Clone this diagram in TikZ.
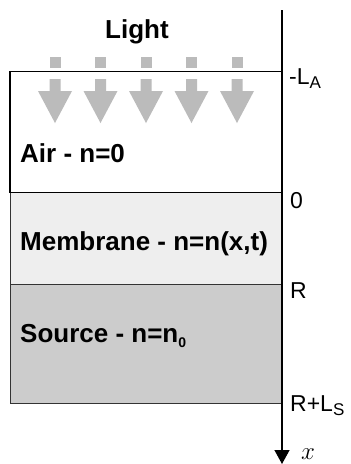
\documentclass[tikz,border=0pt]{standalone}
\usepackage{fontspec}
\setmainfont{Liberation Sans}
\usetikzlibrary{arrows.meta}
\definecolor{arrowgray}{HTML}{BBBBBB}
\definecolor{membfill}{HTML}{EEEEEE}
\definecolor{srcfill}{HTML}{CCCCCC}
\newcommand{\mysub}[1]{\raisebox{-0.2em}{\fontsize{17}{20}\selectfont #1}}
\tikzset{
  boldlabel/.style={anchor=base west,inner sep=0pt,font=\bfseries\fontsize{26}{30}\selectfont},
  axislabel/.style={anchor=base west,inner sep=0pt,font=\fontsize{23}{27}\selectfont},
  lightarrow/.pic={
    \fill[arrowgray] (-5.5,-56.5) rectangle (5.5,-67.5);
    \fill[arrowgray] (-5.5,-79) -- (5.5,-79) -- (5.5,-91) -- (17,-91) -- (0,-123) -- (-17,-91) -- (-5.5,-91) -- cycle;
  }
}
\begin{document}
\begin{tikzpicture}[x=1pt,y=1pt]
\useasboundingbox (0,0) rectangle (351,-464);
% layers
\draw[line width=1pt,draw=black!80,fill=srcfill] (10,-284) rectangle (282,-403);
\draw[line width=1pt,draw=black!80,fill=membfill] (10,-192.5) rectangle (282,-284);
\draw[line width=1.3pt,fill=white] (10,-71.5) rectangle (282,-192.5);
% light arrows
\foreach \cx in {55,100.5,146,191.5,237} {
  \pic at (\cx,0) {lightarrow};
}
% axis
\coordinate (axtop) at (282,-10);
\coordinate (axbot) at (282,-464);
\draw[line width=1.3pt,-{Triangle[width=15pt,length=14pt]}] (axtop) -- (axbot);
% labels
\node[anchor=base,inner sep=0pt,font=\bfseries\fontsize{26}{30}\selectfont] (light) at (137,-38) {Light};
\node[boldlabel] (air) at (20,-162) {Air - n=0};
\node[boldlabel] (memb) at (20,-250) {Membrane - n=n(x,t)};
\node[boldlabel] (src) at (20,-342) {Source - n=n\raisebox{-0.2em}{\fontsize{14}{16}\selectfont 0}};
\node[axislabel] (la) at (289,-84) {-L\mysub{A}};
\node[axislabel] (zero) at (290,-208) {0};
\node[axislabel] (r) at (290,-298) {R};
\node[axislabel] (rls) at (290,-411) {R+L\mysub{S}};
\node[anchor=base west,inner sep=0pt,font=\fontsize{26}{30}\selectfont] (xl) at (301,-459) {$x$};
\end{tikzpicture}
\end{document}
